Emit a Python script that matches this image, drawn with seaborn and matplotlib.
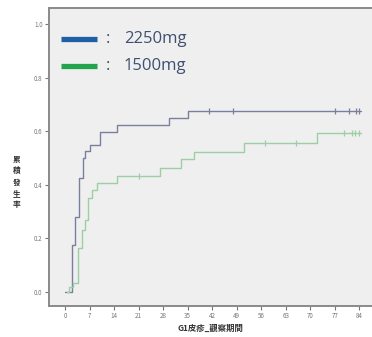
import matplotlib
matplotlib.use("Agg")
import matplotlib.pyplot as plt
import seaborn as sns
import pandas as pd

# step curves: time (days) and cumulative incidence
t_2250 = [0, 1.9, 2.9, 4.0, 5.0, 5.7, 7.0, 10.0, 14.8, 29.8, 35.0, 84.6]
y_2250 = [0.0, 0.174, 0.28, 0.426, 0.50, 0.527, 0.55, 0.598, 0.623, 0.651, 0.674, 0.674]
cens_2250 = [41.2, 47.9, 77.1, 81.1, 83.0, 84.0]

t_1500 = [0.5, 1.0, 2.2, 3.6, 4.8, 5.7, 6.7, 7.6, 9.0, 14.8, 27.0, 33.2, 36.8, 51.0, 72.0, 84.4]
y_1500 = [0.0, 0.019, 0.034, 0.162, 0.23, 0.268, 0.349, 0.38, 0.405, 0.434, 0.464, 0.496, 0.524, 0.556, 0.592, 0.592]
cens_1500 = [21.2, 57.1, 65.9, 79.5, 81.8, 82.8, 84.0]

x_ticks = [0, 7, 14, 21, 28, 35, 42, 49, 56, 63, 70, 77, 84]
y_ticks = [0.0, 0.2, 0.4, 0.6, 0.8, 1.0]
groups = ["2250mg", "1500mg"]

sns.set_style("white")
plt.rcParams['font.family'] = ['Noto Sans CJK TC', 'DejaVu Sans']

fig = plt.figure(figsize=(3.72, 3.37), dpi=100)
ax = fig.add_axes([0.1317, 0.0929, 0.8683, 0.883])
ax.set_facecolor('#efefef')

curve_cols = ['#7b7f9e', '#9ccfa4']
legend_cols = ['#1f5fa6', '#22a34e']

def step_value(ts, ys, x):
    v = ys[0]
    for t, y in zip(ts, ys):
        if t <= x:
            v = y
    return v

for ts, ys, cs, col in [(t_2250, y_2250, cens_2250, curve_cols[0]),
                        (t_1500, y_1500, cens_1500, curve_cols[1])]:
    df = pd.DataFrame({'t': ts, 'y': ys})
    sns.lineplot(data=df, x='t', y='y', ax=ax, color=col, lw=1.0,
                 drawstyle='steps-post', estimator=None, sort=False)
    cy = [step_value(ts, ys, c) for c in cs]
    ax.scatter(cs, cy, marker='|', s=14, color=col, linewidths=0.9, zorder=3)

ax.set_xlim(-4.57, 87.6)
ax.set_ylim(-0.052, 1.06)
ax.set_xticks(x_ticks)
ax.set_xticklabels([str(v) for v in x_ticks])
ax.set_yticks(y_ticks)
ax.set_yticklabels(['%.1f' % v for v in y_ticks])
ax.tick_params(axis='both', length=3, width=0.8, color='#777777',
               labelsize=4.5, labelcolor='#777777', pad=1.5, direction='out')
ax.tick_params(axis='x', bottom=True)
ax.tick_params(axis='y', left=True)
for s in ['left', 'bottom', 'top']:
    ax.spines[s].set_color('#8a8a8a')
    ax.spines[s].set_linewidth(1.4)
ax.spines['right'].set_visible(False)

ax.set_xlabel('G1皮疹_觀察期間', fontsize=6, color='#333333', labelpad=3, fontweight='bold')
ax.set_ylabel('')
fig.text(0.045, 0.46, '累\n積\n發\n生\n率', fontsize=5.5, color='#333333',
         ha='center', va='center', linespacing=1.35, fontweight='bold')

# legend pasted on top
for i, (g, col) in enumerate(zip(groups, legend_cols)):
    yy = 0.884 - i * 0.08
    fig.lines.append(plt.Line2D([0.163, 0.26], [yy, yy], color=col, lw=3.8,
                                solid_capstyle='butt', transform=fig.transFigure))
    fig.text(0.284, yy, ':', fontsize=12, color='#3f5070', va='center',
             ha='left', family=['Open Sans', 'DejaVu Sans'])
    fig.text(0.333, yy, g, fontsize=12, color='#3f5070', va='center',
             ha='left', family=['Open Sans', 'DejaVu Sans'])

fig.savefig('out.png', dpi=100)
